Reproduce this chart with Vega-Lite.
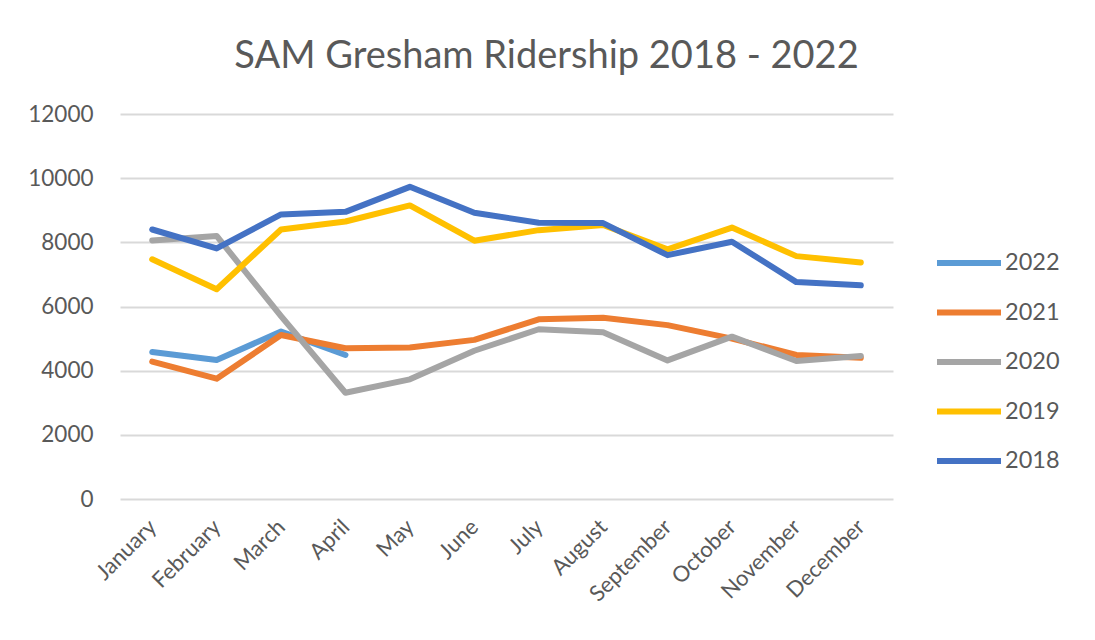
{
  "$schema": "https://vega.github.io/schema/vega-lite/v6.json",
  "autosize": {"type": "none"},
  "padding": {"left": 120, "top": 114, "right": 202, "bottom": 141},
  "width": 773,
  "height": 385,
  "background": "white",
  "title": {
    "text": "SAM Gresham Ridership 2018 - 2022",
    "font": "Lato",
    "fontSize": 38,
    "fontWeight": "normal",
    "color": "#595959",
    "anchor": "middle",
    "dx": 40,
    "offset": 27
  },
  "data": {
    "values": [
      {"year": "2022", "month": "January", "riders": 4580},
      {"year": "2022", "month": "February", "riders": 4330},
      {"year": "2022", "month": "March", "riders": 5220},
      {"year": "2022", "month": "April", "riders": 4490},
      {"year": "2021", "month": "January", "riders": 4280},
      {"year": "2021", "month": "February", "riders": 3750},
      {"year": "2021", "month": "March", "riders": 5110},
      {"year": "2021", "month": "April", "riders": 4700},
      {"year": "2021", "month": "May", "riders": 4720},
      {"year": "2021", "month": "June", "riders": 4960},
      {"year": "2021", "month": "July", "riders": 5600},
      {"year": "2021", "month": "August", "riders": 5650},
      {"year": "2021", "month": "September", "riders": 5420},
      {"year": "2021", "month": "October", "riders": 5000},
      {"year": "2021", "month": "November", "riders": 4490},
      {"year": "2021", "month": "December", "riders": 4400},
      {"year": "2020", "month": "January", "riders": 8060},
      {"year": "2020", "month": "February", "riders": 8200},
      {"year": "2020", "month": "March", "riders": 5700},
      {"year": "2020", "month": "April", "riders": 3310},
      {"year": "2020", "month": "May", "riders": 3730},
      {"year": "2020", "month": "June", "riders": 4620},
      {"year": "2020", "month": "July", "riders": 5290},
      {"year": "2020", "month": "August", "riders": 5200},
      {"year": "2020", "month": "September", "riders": 4320},
      {"year": "2020", "month": "October", "riders": 5060},
      {"year": "2020", "month": "November", "riders": 4300},
      {"year": "2020", "month": "December", "riders": 4460},
      {"year": "2019", "month": "January", "riders": 7470},
      {"year": "2019", "month": "February", "riders": 6540},
      {"year": "2019", "month": "March", "riders": 8400},
      {"year": "2019", "month": "April", "riders": 8650},
      {"year": "2019", "month": "May", "riders": 9150},
      {"year": "2019", "month": "June", "riders": 8050},
      {"year": "2019", "month": "July", "riders": 8380},
      {"year": "2019", "month": "August", "riders": 8540},
      {"year": "2019", "month": "September", "riders": 7780},
      {"year": "2019", "month": "October", "riders": 8460},
      {"year": "2019", "month": "November", "riders": 7570},
      {"year": "2019", "month": "December", "riders": 7370},
      {"year": "2018", "month": "January", "riders": 8400},
      {"year": "2018", "month": "February", "riders": 7810},
      {"year": "2018", "month": "March", "riders": 8870},
      {"year": "2018", "month": "April", "riders": 8950},
      {"year": "2018", "month": "May", "riders": 9730},
      {"year": "2018", "month": "June", "riders": 8920},
      {"year": "2018", "month": "July", "riders": 8610},
      {"year": "2018", "month": "August", "riders": 8600},
      {"year": "2018", "month": "September", "riders": 7600},
      {"year": "2018", "month": "October", "riders": 8020},
      {"year": "2018", "month": "November", "riders": 6760},
      {"year": "2018", "month": "December", "riders": 6660}
    ]
  },
  "mark": {"type": "line", "strokeWidth": 6, "strokeJoin": "round", "strokeCap": "round"},
  "encoding": {
    "x": {
      "field": "month",
      "type": "nominal",
      "sort": ["January", "February", "March", "April", "May", "June", "July", "August", "September", "October", "November", "December"],
      "scale": {"type": "point", "padding": 0.5},
      "axis": {
        "title": null,
        "labelAngle": -45,
        "labelAlign": "right",
        "labelBaseline": "middle",
        "labelPadding": 24,
        "labelFont": "Lato",
        "labelFontSize": 22,
        "labelColor": "#595959",
        "ticks": false,
        "domain": false,
        "grid": false
      }
    },
    "y": {
      "field": "riders",
      "type": "quantitative",
      "scale": {"domain": [0, 12000], "nice": false},
      "axis": {
        "title": null,
        "values": [0, 2000, 4000, 6000, 8000, 10000, 12000],
        "format": "d",
        "labelFont": "Lato",
        "labelFontSize": 22.5,
        "labelColor": "#595959",
        "labelPadding": 27,
        "ticks": false,
        "domain": false,
        "grid": true,
        "gridColor": "#d9d9d9",
        "gridWidth": 2
      }
    },
    "color": {
      "field": "year",
      "type": "nominal",
      "scale": {
        "domain": ["2022", "2021", "2020", "2019", "2018"],
        "range": ["#5B9BD5", "#ED7D31", "#A5A5A5", "#FFC000", "#4472C4"]
      },
      "legend": {
        "title": null,
        "orient": "none",
        "legendX": 814,
        "legendY": 114,
        "symbolType": "stroke",
        "symbolSize": 4096,
        "symbolStrokeWidth": 6,
        "labelFont": "Lato",
        "labelFontSize": 23.5,
        "labelColor": "#595959",
        "labelOffset": 1,
        "rowPadding": 2.5
      }
    }
  },
  "config": {"view": {"stroke": null}}
}
